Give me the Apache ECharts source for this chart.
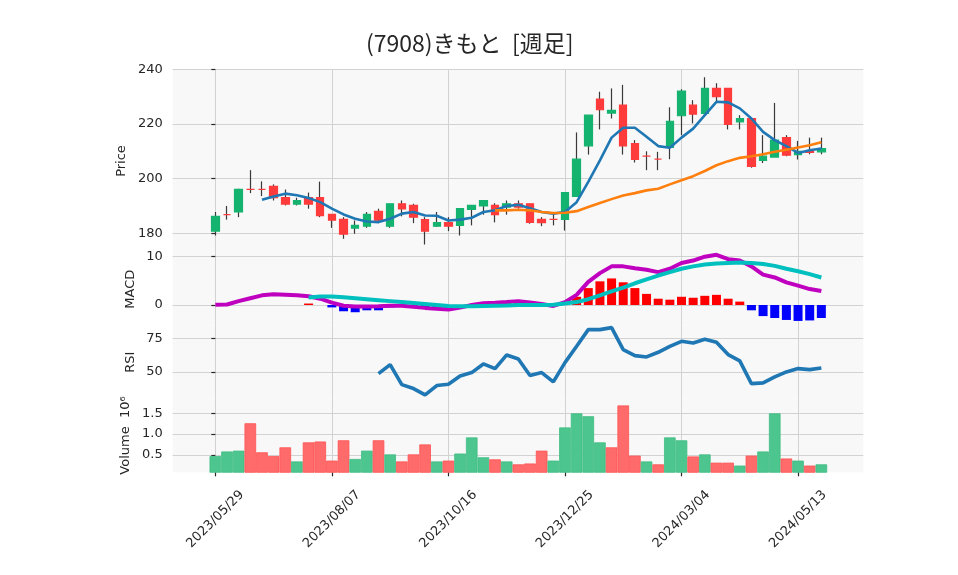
<!DOCTYPE html>
<html>
<head>
<meta charset="utf-8">
<script src="https://cdn.jsdelivr.net/npm/echarts@6/dist/echarts.min.js"></script>
<style>
  html, body { margin: 0; padding: 0; background: #fff; }
  #main { width: 958px; height: 575px; }
</style>
</head>
<body>
<div id="main"></div>
<script>
// 週足 (weekly) 2023/05/29 - 2024/05/27
var dates = [
  '2023/05/29','2023/06/05','2023/06/12','2023/06/19','2023/06/26','2023/07/03','2023/07/10','2023/07/17','2023/07/24','2023/07/31',
  '2023/08/07','2023/08/14','2023/08/21','2023/08/28','2023/09/04','2023/09/11','2023/09/18','2023/09/25','2023/10/02','2023/10/09',
  '2023/10/16','2023/10/23','2023/10/30','2023/11/06','2023/11/13','2023/11/20','2023/11/27','2023/12/04','2023/12/11','2023/12/18',
  '2023/12/25','2024/01/01','2024/01/08','2024/01/15','2024/01/22','2024/01/29','2024/02/05','2024/02/12','2024/02/19','2024/02/26',
  '2024/03/04','2024/03/11','2024/03/18','2024/03/25','2024/04/01','2024/04/08','2024/04/15','2024/04/22','2024/04/29','2024/05/06',
  '2024/05/13','2024/05/20','2024/05/27'
]
var opens = [
  180.8,186.8,187.8,196.1,196.1,197.2,193.1,190.7,193.1,193.1,
  186.9,185.1,181.9,182.6,188.0,182.6,190.8,190.2,185.0,182.6,
  183.9,182.9,188.7,190.0,190.2,189.6,190.8,190.8,185.1,185.1,
  185.1,193.5,212.0,229.1,224.0,226.9,212.8,208.2,207.1,211.4,
  223.0,226.9,223.9,233.0,233.0,220.8,222.0,206.7,207.9,215.0,
  208.8,210.0,209.8
]
var closes = [
  186.2,186.8,196.1,196.1,196.1,193.0,190.7,192.0,190.7,186.5,
  184.8,179.7,182.9,186.9,184.8,190.8,188.9,185.9,180.8,183.9,
  182.6,189.0,190.2,192.0,186.8,190.8,189.6,184.0,183.9,185.1,
  194.9,207.1,223.2,225.2,225.0,212.0,207.0,208.2,207.1,221.0,
  232.0,223.6,233.0,230.0,219.8,222.0,204.5,208.2,214.1,208.6,
  210.0,209.6,211.0
]
var lows = [
  179.2,185.0,185.9,194.7,193.6,192.0,190.2,190.2,189.0,185.9,
  182.0,178.0,179.8,182.0,183.7,182.0,186.2,183.7,175.9,182.3,
  180.8,179.2,182.9,186.8,184.0,186.8,189.0,183.5,182.6,182.9,
  181.0,193.5,208.8,218.0,222.0,208.8,205.9,203.1,203.1,207.1,
  215.9,220.2,223.2,228.1,218.0,218.0,204.0,205.7,207.9,208.2,
  207.0,208.9,208.9
]
var highs = [
  187.8,190.0,196.3,203.1,199.0,197.9,196.0,193.0,194.9,198.9,
  186.9,185.9,184.7,187.8,189.0,190.8,192.0,190.8,185.9,187.8,
  185.9,189.0,190.2,192.0,191.0,192.0,192.0,190.8,185.9,186.8,
  194.9,216.9,223.2,231.8,233.0,234.3,214.1,210.0,209.8,226.1,
  232.7,228.7,237.1,234.9,233.0,223.2,222.0,215.9,227.7,215.9,
  213.8,215.0,215.0
]
// 出来高 (x10^6)
var volumes = [
  0.47,0.58,0.60,1.26,0.56,0.47,0.68,0.34,0.80,0.82,
  0.36,0.85,0.40,0.60,0.85,0.51,0.34,0.51,0.75,0.34,
  0.36,0.53,0.92,0.44,0.39,0.34,0.27,0.29,0.60,0.36,
  1.16,1.50,1.43,0.80,0.68,1.69,0.48,0.34,0.27,0.92,
  0.85,0.46,0.51,0.31,0.31,0.24,0.48,0.58,1.50,0.41,
  0.36,0.24,0.27
]
var ma5 = [
  null,null,null,null,192.3,193.5,194.5,193.9,192.9,191.4,
  189.0,186.9,185.3,184.3,184.1,185.3,187.2,187.8,186.5,186.4,
  184.7,185.0,185.7,187.8,188.4,190.0,190.4,189.2,187.8,187.2,
  187.8,191.4,198.8,206.7,215.0,218.6,218.6,215.3,211.9,211.3,
  215.0,218.3,223.2,228.1,227.9,225.7,222.0,217.1,214.1,211.9,
  209.4,210.4,211.0
]
var ma25 = [
  null,null,null,null,null,null,null,null,null,null,
  null,null,null,null,null,null,null,null,null,null,
  null,null,null,null,188.4,188.4,188.6,188.4,187.8,187.4,
  187.5,188.1,189.6,191.1,192.5,193.8,194.7,195.7,196.3,197.9,
  199.4,200.9,202.8,204.9,206.4,207.6,208.2,208.9,209.8,210.6,
  211.4,212.2,213.3
]
var macd = [
  0.05,0.1,0.8,1.4,2.0,2.2,2.1,2.0,1.8,1.3,
  0.5,-0.15,-0.3,-0.3,-0.25,-0.15,-0.15,-0.35,-0.6,-0.8,
  -0.95,-0.55,0.0,0.35,0.45,0.6,0.8,0.5,0.2,-0.2,
  0.6,2.1,4.8,6.6,8.0,8.0,7.6,7.3,6.8,7.5,
  8.7,9.2,10.0,10.4,9.5,9.2,8.0,6.3,5.7,4.7,
  4.0,3.3,2.9
]
var signal = [
  null,null,null,null,null,null,null,null,1.55,1.75,
  1.75,1.6,1.4,1.2,1.0,0.8,0.6,0.4,0.2,0.0,
  -0.2,-0.25,-0.25,-0.2,-0.15,-0.1,0.0,0.0,0.0,0.05,
  0.3,0.6,1.2,2.0,2.8,3.6,4.5,5.3,6.1,6.8,
  7.5,8.0,8.4,8.6,8.7,8.8,8.7,8.5,8.1,7.5,
  7.0,6.4,5.7
]
var hist = [
  null,null,null,null,null,null,null,null,0.3,0.0,
  -0.5,-1.3,-1.5,-1.1,-1.1,-0.5,-0.4,-0.4,-0.5,-0.6,
  -0.6,-0.3,0.2,0.4,0.5,0.6,0.6,0.4,0.1,-0.2,
  0.3,1.7,3.5,4.9,5.5,4.7,3.5,2.3,1.3,1.1,
  1.7,1.5,1.9,2.1,1.3,0.7,-1.1,-2.3,-2.7,-3.1,
  -3.3,-3.2,-2.7
]
var rsi = [
  null,null,null,null,null,null,null,null,null,null,
  null,null,null,null,48.75,55.5,40.5,37.5,32.75,39.75,
  40.75,47,49.5,56,52.5,62.75,59.75,47.25,49.5,42.5,
  57,69.25,81.75,81.75,83.25,66.75,62.25,61.25,64.75,69.25,
  73,71.75,74.5,72.25,63,58.25,41.25,41.75,46.25,50,
  52.5,51.75,53
]
var dateTicks = [0, 10, 20, 30, 40, 50]
var priceTicks = [180, 200, 220, 240]
var macdTicks = [0, 10]
var rsiTicks = [50, 75]
var volTicks = [0.5, 1.0, 1.5]

var UP = '#14b36f', DOWN = '#ff3b3b'
var VUP = '#4cc68e', VDOWN = '#ff6b6b'
var TXT = '#262626'
var GRID = '#d2d2d2'
var FONT = 'DejaVu Sans'

function pairs(arr) {
  var out = []
  arr.forEach(function (v, i) { if (v != null) out.push([i, v]) })
  return out
}

var wickData = dates.map(function (d, i) {
  return [i, opens[i], closes[i], lows[i], highs[i]]
})
var bodyData = dates.map(function (d, i) {
  var item = { value: [i, opens[i], closes[i], Math.min(opens[i], closes[i]), Math.max(opens[i], closes[i])] }
  if (opens[i] === closes[i]) {
    item.itemStyle = { color: DOWN, color0: DOWN, borderColor: DOWN, borderColor0: DOWN }
  }
  return item
})
var volData = volumes.map(function (v, i) {
  var up = i === 0 || closes[i] > closes[i - 1]
  return { value: [i, v], itemStyle: { color: up ? VUP : VDOWN, borderColor: up ? '#3fbd84' : '#ff5050' } }
})
var histData = []
hist.forEach(function (v, i) {
  if (v != null) histData.push({ value: [i, v], itemStyle: { color: v >= 0 ? '#ff0000' : '#0000ff' } })
})

var L = 172.7, W = 690.6
var grids = [
  { left: L, width: W, top: 69.3, height: 183.4 },
  { left: L, width: W, top: 252.7, height: 73 },
  { left: L, width: W, top: 325.7, height: 73 },
  { left: L, width: W, top: 398.7, height: 73.6 }
].map(function (g) {
  g.show = true
  g.backgroundColor = '#f8f8f8'
  g.borderWidth = 0
  return g
})

function xAx(i, last) {
  return {
    type: 'value', gridIndex: i, min: -3.66, max: 55.6,
    axisLine: { show: false, onZero: false },
    axisTick: { show: last, customValues: dateTicks, length: 4, lineStyle: { color: TXT, width: 1.2 } },
    axisLabel: {
      show: last, customValues: dateTicks, rotate: 45, align: 'center', verticalAlign: 'middle',
      margin: 47, fontSize: 13, fontFamily: FONT, color: TXT,
      formatter: function (v) { return dates[Math.round(v)] }
    },
    splitLine: { show: true, lineStyle: { color: GRID, width: 1 } }
  }
}

function yAx(i, min, max, ticks, name, gap, fmt) {
  return {
    type: 'value', gridIndex: i, min: min, max: max, position: 'left',
    name: name, nameLocation: 'middle', nameGap: gap, nameRotate: 90, nameMoveOverlap: false,
    nameTextStyle: { fontSize: 13, fontFamily: FONT, color: TXT },
    axisLine: { show: false },
    axisTick: { show: true, customValues: ticks, length: 4, lineStyle: { color: TXT, width: 1.2 } },
    axisLabel: { customValues: ticks, margin: 10, fontSize: 13, fontFamily: FONT, color: TXT, formatter: fmt },
    splitLine: { show: true, lineStyle: { color: GRID, width: 1 } }
  }
}

var option = {
  animation: false,
  backgroundColor: '#ffffff',
  title: {
    text: '(7908)きもと  [週足]',
    left: 366, top: 32, padding: 0,
    textStyle: { fontFamily: 'Noto Sans CJK JP', fontSize: 23, fontWeight: 'normal', color: TXT }
  },
  grid: grids,
  xAxis: [xAx(0, false), xAx(1, false), xAx(2, false), xAx(3, true)],
  yAxis: [
    yAx(0, 172.9, 240, priceTicks, 'Price', 44.7, function (v) { return String(v) }),
    yAx(1, -4.29, 10.83, macdTicks, 'MACD', 35.4, function (v) { return String(v) }),
    yAx(2, 29.9, 84.7, rsiTicks, 'RSI', 35.4, function (v) { return String(v) }),
    yAx(3, 0.078, 1.853, volTicks, 'Volume  10\u2076', 40.4, function (v) { return v.toFixed(1) })
  ],
  series: [
    {
      type: 'candlestick', xAxisIndex: 0, yAxisIndex: 0, data: wickData,
      encode: { x: 0, y: [1, 2, 3, 4] }, barWidth: 0.01, z: 1,
      itemStyle: { color: '#3a3a3a', color0: '#3a3a3a', borderColor: '#3a3a3a', borderColor0: '#3a3a3a', borderColorDoji: '#3a3a3a', borderWidth: 1.2 }
    },
    {
      type: 'candlestick', xAxisIndex: 0, yAxisIndex: 0, data: bodyData,
      encode: { x: 0, y: [1, 2, 3, 4] }, barWidth: 8, z: 2,
      itemStyle: { color: UP, color0: DOWN, borderColor: UP, borderColor0: DOWN, borderColorDoji: DOWN, borderWidth: 1.2 }
    },
    {
      type: 'line', xAxisIndex: 0, yAxisIndex: 0, data: pairs(ma5), z: 3,
      showSymbol: false, lineStyle: { color: '#1f77b4', width: 2.6 }
    },
    {
      type: 'line', xAxisIndex: 0, yAxisIndex: 0, data: pairs(ma25), z: 3,
      showSymbol: false, lineStyle: { color: '#ff7f0e', width: 2.6 }
    },
    {
      type: 'bar', xAxisIndex: 1, yAxisIndex: 1, data: histData, barWidth: 9, z: 1
    },
    {
      type: 'line', xAxisIndex: 1, yAxisIndex: 1, data: pairs(macd), z: 3,
      showSymbol: false, lineStyle: { color: '#bf00bf', width: 4 }
    },
    {
      type: 'line', xAxisIndex: 1, yAxisIndex: 1, data: pairs(signal), z: 4,
      showSymbol: false, lineStyle: { color: '#00bfbf', width: 4 }
    },
    {
      type: 'line', xAxisIndex: 2, yAxisIndex: 2, data: pairs(rsi), z: 3,
      showSymbol: false, lineStyle: { color: '#1f77b4', width: 3.6 }
    },
    {
      type: 'bar', xAxisIndex: 3, yAxisIndex: 3, data: volData, barWidth: 11.6, z: 2,
      itemStyle: { borderWidth: 0.8 }
    }
  ]
}

var chart = echarts.init(document.getElementById('main'))
chart.setOption(option)
</script>
</body>
</html>
